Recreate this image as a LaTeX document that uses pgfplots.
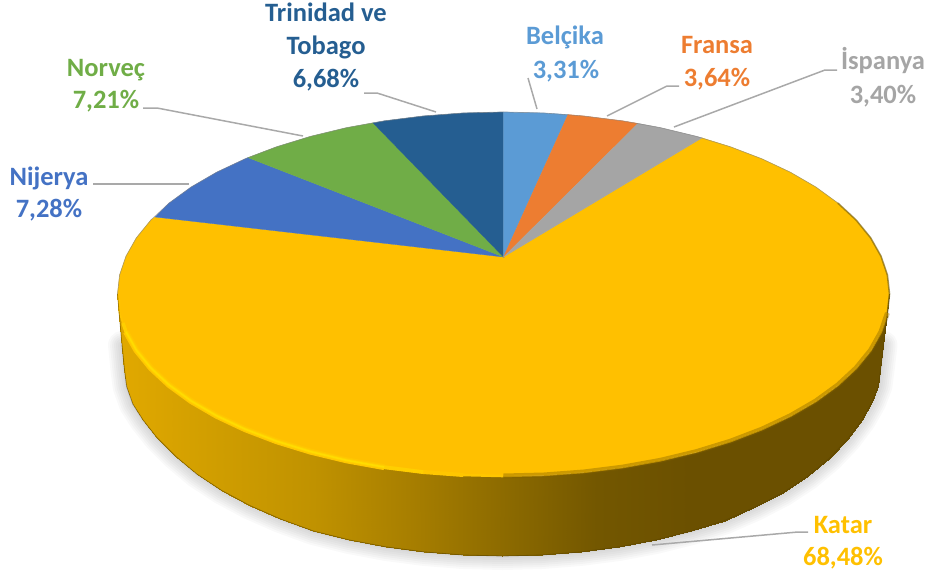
\documentclass[border=0pt]{standalone}
\usepackage{pgfplots}
\pgfplotsset{compat=1.18}
\usepackage{pgfplotstable}
\usepackage{fontspec}
\setmainfont{Carlito}
\definecolor{cKat}{HTML}{FFC000}
\definecolor{cNij}{HTML}{4472C4}
\definecolor{cNor}{HTML}{70AD47}
\definecolor{cTri}{HTML}{255E91}
\definecolor{cBel}{HTML}{5B9BD5}
\definecolor{cFra}{HTML}{ED7D31}
\definecolor{cIsp}{HTML}{A5A5A5}
\definecolor{cLead}{HTML}{A9A9A9}
\pgfplotstableread{
x y
883.5 345.0
880.5 370.0
878.4 386.0
872.2 402.0
862.0 420.0
847.8 439.0
829.8 458.0
808.3 476.0
783.4 492.5
755.4 507.0
724.7 520.5
691.5 531.1
656.2 539.9
619.3 546.9
581.1 551.9
542.0 555.0
502.5 556.0
463.0 555.0
423.9 551.9
385.7 546.9
348.8 539.9
313.5 531.1
280.3 519.0
249.6 505.5
221.6 490.5
196.7 474.0
175.2 456.0
157.2 438.0
143.0 420.0
132.8 404.0
126.6 386.5
124.5 370.0
122.0 345.0
}\outline
\pgfplotsset{base/.style={
  at={(0,0)},anchor=south west,scale only axis,width=931pt,height=578pt,
  xmin=0,xmax=931,ymin=0,ymax=578,y dir=reverse,hide axis,clip=false},
  shad/.style={draw=black,draw opacity=0.024,line join=round,line cap=round}}
\begin{document}
\begin{tikzpicture}
\useasboundingbox (0,0) rectangle (931pt,578pt);
% soft shadow
\begin{axis}[base]
\addplot[shad,line width=28pt] table[x=x,y=y]{\outline};
\addplot[shad,line width=24pt] table[x=x,y=y]{\outline};
\addplot[shad,line width=20pt] table[x=x,y=y]{\outline};
\addplot[shad,line width=16pt] table[x=x,y=y]{\outline};
\addplot[shad,line width=12pt] table[x=x,y=y]{\outline};
\addplot[shad,line width=8pt] table[x=x,y=y]{\outline};
\addplot[shad,line width=4pt] table[x=x,y=y]{\outline};
\end{axis}
% side wall
\begin{axis}[base,view={0}{90},zmin=-1,zmax=1,
  colormap={side}{rgb255=(224,168,0) rgb255=(207,157,0) rgb255=(192,146,0) rgb255=(168,127,0) rgb255=(141,107,0) rgb255=(115,87,0) rgb255=(107,80,0) rgb255=(107,80,0) rgb255=(107,80,0)},
  point meta min=125,point meta max=880]
\addplot3[surf,shader=interp,mesh/rows=2,mesh/cols=31,point meta=x] table[row sep=newline]{
x y z
880.5 370.0 0
878.4 386.0 0
872.2 402.0 0
862.0 420.0 0
847.8 439.0 0
829.8 458.0 0
808.3 476.0 0
783.4 492.5 0
755.4 507.0 0
724.7 520.5 0
691.5 531.1 0
656.2 539.9 0
619.3 546.9 0
581.1 551.9 0
542.0 555.0 0
502.5 556.0 0
463.0 555.0 0
423.9 551.9 0
385.7 546.9 0
348.8 539.9 0
313.5 531.1 0
280.3 519.0 0
249.6 505.5 0
221.6 490.5 0
196.7 474.0 0
175.2 456.0 0
157.2 438.0 0
143.0 420.0 0
132.8 404.0 0
126.6 386.5 0
124.5 370.0 0
889.5 294.0 0
887.4 313.0 0
881.0 331.8 0
870.6 350.2 0
856.1 368.0 0
837.8 385.0 0
815.8 401.0 0
790.3 415.8 0
761.8 429.2 0
730.4 441.2 0
696.5 451.6 0
660.5 460.3 0
622.8 467.1 0
583.7 472.0 0
543.8 475.0 0
503.5 476.0 0
463.2 475.0 0
423.3 472.0 0
384.2 467.1 0
346.5 460.3 0
310.5 451.6 0
276.6 441.2 0
245.2 429.2 0
216.7 415.8 0
191.2 401.0 0
169.2 385.0 0
150.9 368.0 0
136.4 350.2 0
126.0 331.8 0
119.6 313.0 0
117.5 294.0 0
};
\end{axis}
% top face
\begin{axis}[base]
% Katar
\addplot[fill=cKat,draw=cKat,line width=0.3pt] coordinates {
(503.5,257)(702,137.9)(730.4,146.8)(761.8,158.8)(790.3,172.2)(815.8,187.0)(837.8,203.0)(856.1,220.0)(870.6,237.8)(881.0,256.2)(887.4,275.0)(889.5,294.0)
(887.4,313.0)(881.0,331.8)(870.6,350.2)(856.1,368.0)(837.8,385.0)(815.8,401.0)(790.3,415.8)(761.8,429.2)(730.4,441.2)(696.5,451.6)(660.5,460.3)(622.8,467.1)(583.7,472.0)(543.8,475.0)(503.5,476.0)
(463.2,475.0)(423.3,472.0)(384.2,467.1)(346.5,460.3)(310.5,451.6)(276.6,441.2)(245.2,429.2)(216.7,415.8)(191.2,401.0)(169.2,385.0)(150.9,368.0)(136.4,350.2)(126.0,331.8)(119.6,313.0)(117.5,294.0)
(119.6,275.0)(126.0,256.2)(136.4,237.8)(150.9,220.0)(155,217)} --cycle;
% Nijerya
\addplot[fill=cNij,draw=cNij,line width=0.3pt] coordinates {
(503.5,257)(155,217)(169.2,203.0)(191.2,187.0)(216.7,172.2)(245.2,158.8)(248,157.6)} --cycle;
% Norvec
\addplot[fill=cNor,draw=cNor,line width=0.3pt] coordinates {
(503.5,257)(248,157.6)(276.6,146.8)(310.5,136.4)(346.5,127.7)(373,122.9)} --cycle;
% Trinidad ve Tobago
\addplot[fill=cTri,draw=cTri,line width=0.3pt] coordinates {
(503.5,257)(373,122.9)(384.2,120.9)(423.3,116.0)(463.2,113.0)(503.5,112.0)} --cycle;
% Belcika
\addplot[fill=cBel,draw=cBel,line width=0.3pt] coordinates {
(503.5,257)(503.5,112.0)(543.8,113.0)(568,114.6)} --cycle;
% Fransa
\addplot[fill=cFra,draw=cFra,line width=0.3pt] coordinates {
(503.5,257)(568,114.6)(583.7,116.0)(622.8,120.9)(638,123.4)} --cycle;
% Ispanya
\addplot[fill=cIsp,draw=cIsp,line width=0.3pt] coordinates {
(503.5,257)(638,123.4)(660.5,127.7)(696.5,136.4)(702,137.9)} --cycle;
% rim, lit on the left
\addplot[draw={rgb,255:red,255;green,196;blue,0},line width=1.8pt,line join=round] coordinates {
(119.3,298)(119.6,313.0)(126.0,331.8)};
\addplot[draw={rgb,255:red,255;green,198;blue,0},line width=6pt,line join=round] coordinates {
(126.0,331.8)(136.4,350.2)(150.9,368.0)(169.2,385.0)(191.2,401.0)(216.7,415.8)(245.2,429.2)(276.6,441.2)(310.5,451.6)(346.5,460.3)(384.2,467.1)};
\addplot[draw={rgb,255:red,255;green,198;blue,0},line width=4pt,line join=round] coordinates {
(384.2,467.1)(423.3,472.0)(463.2,475.0)};
\addplot[draw={rgb,255:red,255;green,198;blue,0},line width=2.6pt,line join=round] coordinates {
(463.2,475.0)(503.5,476.0)};
\addplot[draw={rgb,255:red,255;green,207;blue,0},line width=3.4pt,line join=round] coordinates {
(123,323)(126.0,331.8)(136.4,350.2)(150.9,368.0)(169.2,385.0)(191.2,401.0)(216.7,415.8)(245.2,429.2)(276.6,441.2)(310.5,451.6)(346.5,460.3)(384.2,467.1)(423.3,472.0)};
\addplot[draw={rgb,255:red,255;green,220;blue,0},line width=1.6pt,line join=round] coordinates {
(126.0,331.8)(136.4,350.2)(150.9,368.0)(169.2,385.0)(191.2,401.0)(216.7,415.8)(245.2,429.2)(276.6,441.2)(310.5,451.6)(346.5,460.3)(384.2,467.1)};
% rim, soft on the right
\addplot[draw={rgb,255:red,128;green,96;blue,0},draw opacity=0.4,line width=5pt,line join=round] coordinates {
(503.5,476.0)(543.8,475.0)(583.7,472.0)(622.8,467.1)(660.5,460.3)(696.5,451.6)(730.4,441.2)(761.8,429.2)(790.3,415.8)(815.8,401.0)(837.8,385.0)(856.1,368.0)(870.6,350.2)(881.0,331.8)(887.4,313.0)};
\addplot[draw={rgb,255:red,206;green,155;blue,0},draw opacity=0.8,line width=2.4pt,line join=round] coordinates {
(503.5,476.0)(543.8,475.0)(583.7,472.0)(622.8,467.1)(660.5,460.3)(696.5,451.6)(730.4,441.2)(761.8,429.2)(790.3,415.8)(815.8,401.0)(837.8,385.0)(856.1,368.0)(870.6,350.2)(881.0,331.8)(887.4,313.0)};
% thin edges of the upper arc
\addplot[draw={rgb,255:red,110;green,90;blue,20},draw opacity=0.6,line width=1.6pt,line join=round] coordinates {
(837.8,203.0)(856.1,220.0)(870.6,237.8)(881.0,256.2)(887.4,275.0)(889.5,294.0)(887.4,313.0)};
\addplot[draw=gray,draw opacity=0.6,line width=0.7pt,line join=round] coordinates {
(117.5,294.0)(119.6,275.0)(126.0,256.2)(136.4,237.8)(150.9,220.0)(169.2,203.0)(191.2,187.0)(216.7,172.2)(245.2,158.8)(276.6,146.8)(310.5,136.4)(346.5,127.7)(384.2,120.9)(423.3,116.0)(463.2,113.0)(503.5,112.0)(543.8,113.0)(583.7,116.0)(622.8,120.9)(660.5,127.7)(696.5,136.4)(730.4,146.8)(761.8,158.8)(790.3,172.2)(815.8,187.0)(837.8,203.0)};
% lower silhouette
\addplot[draw={rgb,255:red,90;green,68;blue,0},draw opacity=0.6,line width=0.8pt,line join=round] table[x=x,y=y]{\outline};
\addplot[draw={rgb,255:red,90;green,68;blue,0},draw opacity=0.5,line width=0.8pt] coordinates {(117.5,294)(122,345)};
\addplot[draw={rgb,255:red,90;green,68;blue,0},draw opacity=0.5,line width=0.8pt] coordinates {(889.5,294)(883.5,345)};
% leader lines
\addplot[draw=cLead,line width=1.5pt] coordinates {(93,184)(189,184)};
\addplot[draw=cLead,line width=1.5pt] coordinates {(143,108)(157,108)(303,136)};
\addplot[draw=cLead,line width=1.5pt] coordinates {(364,93)(377,93)(436,112)};
\addplot[draw=cLead,line width=1.5pt] coordinates {(528,78)(537,109)};
\addplot[draw=cLead,line width=1.5pt] coordinates {(679,86)(667,86)(607,116)};
\addplot[draw=cLead,line width=1.5pt] coordinates {(837,70)(825,70)(674,127)};
\addplot[draw=cLead,line width=1.5pt] coordinates {(808,532)(798,532)(652,545)};
% labels
\tikzset{lab/.style={anchor=base,inner sep=0pt,font=\fontsize{26.5}{26.5}\selectfont\bfseries}}
\node[lab,text=cTri] at (axis cs:326,22) {Trinidad ve};
\node[lab,text=cTri] at (axis cs:326,55) {Tobago};
\node[lab,text=cTri] at (axis cs:326,87) {6,68\%};
\node[lab,text=cBel] at (axis cs:565,45) {Belçika};
\node[lab,text=cBel] at (axis cs:566,78) {3,31\%};
\node[lab,text=cFra] at (axis cs:717,53) {Fransa};
\node[lab,text=cFra] at (axis cs:717,86) {3,64\%};
\node[lab,text=cIsp] at (axis cs:883,70) {İspanya};
\node[lab,text=cIsp] at (axis cs:883,103) {3,40\%};
\node[lab,text=cNor] at (axis cs:106,77) {Norveç};
\node[lab,text=cNor] at (axis cs:106,108) {7,21\%};
\node[lab,text=cNij] at (axis cs:49,185) {Nijerya};
\node[lab,text=cNij] at (axis cs:49,217) {7,28\%};
\node[lab,text=cKat] at (axis cs:843,533) {Katar};
\node[lab,text=cKat] at (axis cs:843,565) {68,48\%};
\end{axis}
\end{tikzpicture}
\end{document}
